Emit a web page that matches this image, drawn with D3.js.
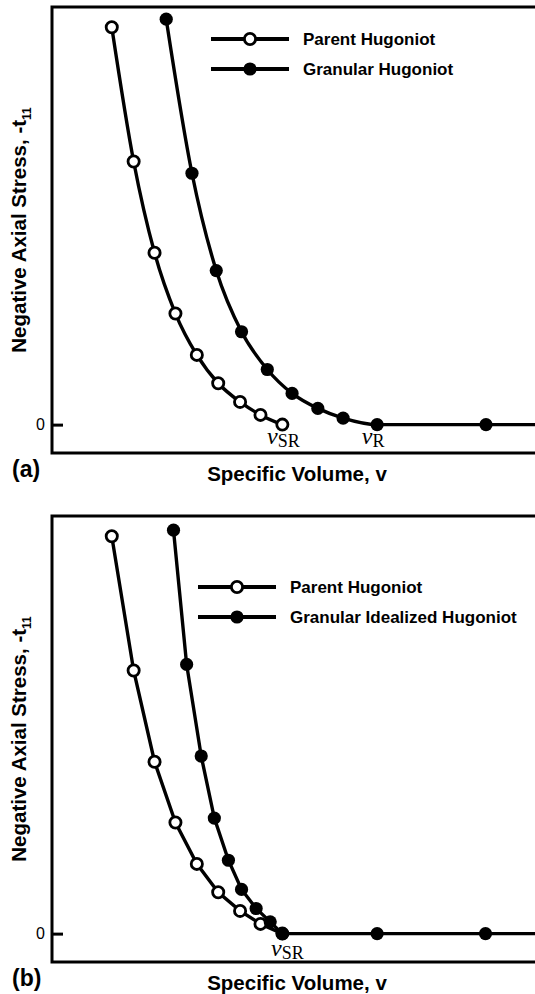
<!DOCTYPE html>
<html>
<head>
<meta charset="utf-8">
<script src="https://cdn.jsdelivr.net/npm/d3@7"></script>
<style>
  body { margin: 0; background: #fff; }
  svg { display: block; }
  text { font-family: "Liberation Sans", Arial, sans-serif; fill: #000; }
</style>
</head>
<body>
<div id="chart"></div>
<script>
// shared parent hugoniot (both panels)
const parentV = [0.123, 0.168, 0.211, 0.254, 0.298, 0.342, 0.387, 0.429, 0.474];
const parentS = [0.980, 0.649, 0.424, 0.274, 0.172, 0.102, 0.056, 0.024, 0];

// panel (a) granular hugoniot
const granularV = [0.235, 0.288, 0.338, 0.390, 0.443, 0.494, 0.547, 0.599, 0.669, 0.893];
const granularS = [1.000, 0.620, 0.380, 0.229, 0.136, 0.077, 0.040, 0.016, 0, 0];

// panel (b) granular idealized hugoniot
const idealV = [0.250, 0.277, 0.307, 0.334, 0.363, 0.390, 0.420, 0.449, 0.474, 0.669, 0.892];
const idealS = [0.995, 0.664, 0.438, 0.285, 0.181, 0.109, 0.062, 0.029, 0, 0, 0];

const yTicks = [0];
const vSR = 0.474, vR = 0.669;

const W = 535, H = 994;
const svg = d3.select("#chart").append("svg").attr("width", W).attr("height", H);

function zip(xs, ys) {
  return xs.map((x, i) => ({ x: x, y: ys[i] }));
}

function drawPanel(opt) {
  const top = opt.top, bottom = opt.top + 446, left = 52, right = 541;

  const x = d3.scaleLinear().domain([0, 1]).range([left, right - 3]);
  const y = d3.scaleLinear().domain([-0.07, 1.03]).range([bottom, top]);

  const g = svg.append("g");

  // frame
  g.append("rect")
    .attr("x", left).attr("y", top)
    .attr("width", right - left).attr("height", bottom - top)
    .attr("fill", "none").attr("stroke", "#000").attr("stroke-width", 3);

  // y axis: only the zero tick, drawn inward
  const yAxis = d3.axisLeft(y).tickValues(yTicks).tickFormat(d3.format("d"))
    .tickSize(-11).tickPadding(7);
  const ya = g.append("g").attr("transform", "translate(" + left + ",0)").call(yAxis);
  ya.select(".domain").remove();
  ya.selectAll("line").attr("stroke-width", 3);
  ya.selectAll("text").style("font-size", "16px").style("font-family", "Liberation Sans, Arial, sans-serif");

  // axis titles
  const yl = g.append("text")
    .attr("transform", "translate(26," + (top + bottom) / 2 + ") rotate(-90)")
    .attr("text-anchor", "middle")
    .style("font-size", "20.5px").style("font-weight", "bold");
  yl.append("tspan").text("Negative Axial Stress, -t");
  yl.append("tspan").attr("dy", 5).style("font-size", "12px").text("11");

  g.append("text")
    .attr("x", 297).attr("y", bottom + 28)
    .attr("text-anchor", "middle")
    .style("font-size", "20.5px").style("font-weight", "bold")
    .text("Specific Volume, v");

  g.append("text")
    .attr("x", 12).attr("y", bottom + 24)
    .style("font-size", "23px").style("font-weight", "bold")
    .text(opt.letter);

  const line = d3.line().x(d => x(d.x)).y(d => y(d.y)).curve(opt.curve);

  const series = [
    { data: zip(parentV, parentS), fill: "#fff" },
    { data: opt.gran, fill: "#000" }
  ];

  series.forEach(s => {
    g.append("path").datum(s.data)
      .attr("d", line)
      .attr("fill", "none").attr("stroke", "#000").attr("stroke-width", 3.4);
  });

  // granular curve runs on along zero to the edge
  const last = opt.gran[opt.gran.length - 1];
  g.append("line")
    .attr("x1", x(last.x)).attr("x2", x(1) + 3)
    .attr("y1", y(last.y)).attr("y2", y(last.y))
    .attr("stroke", "#000").attr("stroke-width", 3.4);

  series.forEach(s => {
    g.selectAll(null).data(s.data).enter().append("circle")
      .attr("cx", d => x(d.x)).attr("cy", d => y(d.y))
      .attr("r", s.fill === "#fff" ? 5.6 : 6.6)
      .attr("fill", s.fill).attr("stroke", "#000")
      .attr("stroke-width", s.fill === "#fff" ? 2.8 : 0);
  });

  // v labels
  opt.vlabels.forEach(l => {
    const t = g.append("text")
      .attr("x", x(l.v) + (l.dx || 0)).attr("y", y(0) + l.dy)
      .attr("text-anchor", "middle")
      .style("font-family", "Liberation Serif, Times New Roman, serif");
    t.append("tspan").style("font-style", "italic").style("font-size", "24px").text("v");
    t.append("tspan").attr("dy", 3).style("font-size", "18px").text(l.sub);
  });

  // legend
  const lg = g.append("g");
  opt.legend.forEach((name, i) => {
    const ly = opt.legendY + i * opt.legendGap;
    lg.append("line")
      .attr("x1", opt.legendX).attr("x2", opt.legendX + 78)
      .attr("y1", ly).attr("y2", ly)
      .attr("stroke", "#000").attr("stroke-width", 3.8);
    lg.append("circle")
      .attr("cx", opt.legendX + 39).attr("cy", ly)
      .attr("r", i === 0 ? 5.6 : 6.6)
      .attr("fill", i === 0 ? "#fff" : "#000")
      .attr("stroke", "#000").attr("stroke-width", i === 0 ? 2.8 : 0);
    lg.append("text")
      .attr("x", opt.legendX + 92).attr("y", ly + 6)
      .style("font-size", "17px").style("font-weight", "bold")
      .text(name);
  });
}

drawPanel({
  top: 7,
  letter: "(a)",
  gran: zip(granularV, granularS),
  curve: d3.curveMonotoneX,
  vlabels: [{ v: vSR, sub: "SR", dy: 19, dx: 1 }, { v: vR, sub: "R", dy: 19, dx: -4 }],
  legend: ["Parent Hugoniot", "Granular Hugoniot"],
  legendX: 211, legendY: 39, legendGap: 30
});

drawPanel({
  top: 516,
  letter: "(b)",
  gran: zip(idealV, idealS),
  curve: d3.curveLinear,
  vlabels: [{ v: vSR, sub: "SR", dy: 22, dx: 5 }],
  legend: ["Parent Hugoniot", "Granular Idealized Hugoniot"],
  legendX: 198, legendY: 587, legendGap: 30
});
</script>
</body>
</html>
